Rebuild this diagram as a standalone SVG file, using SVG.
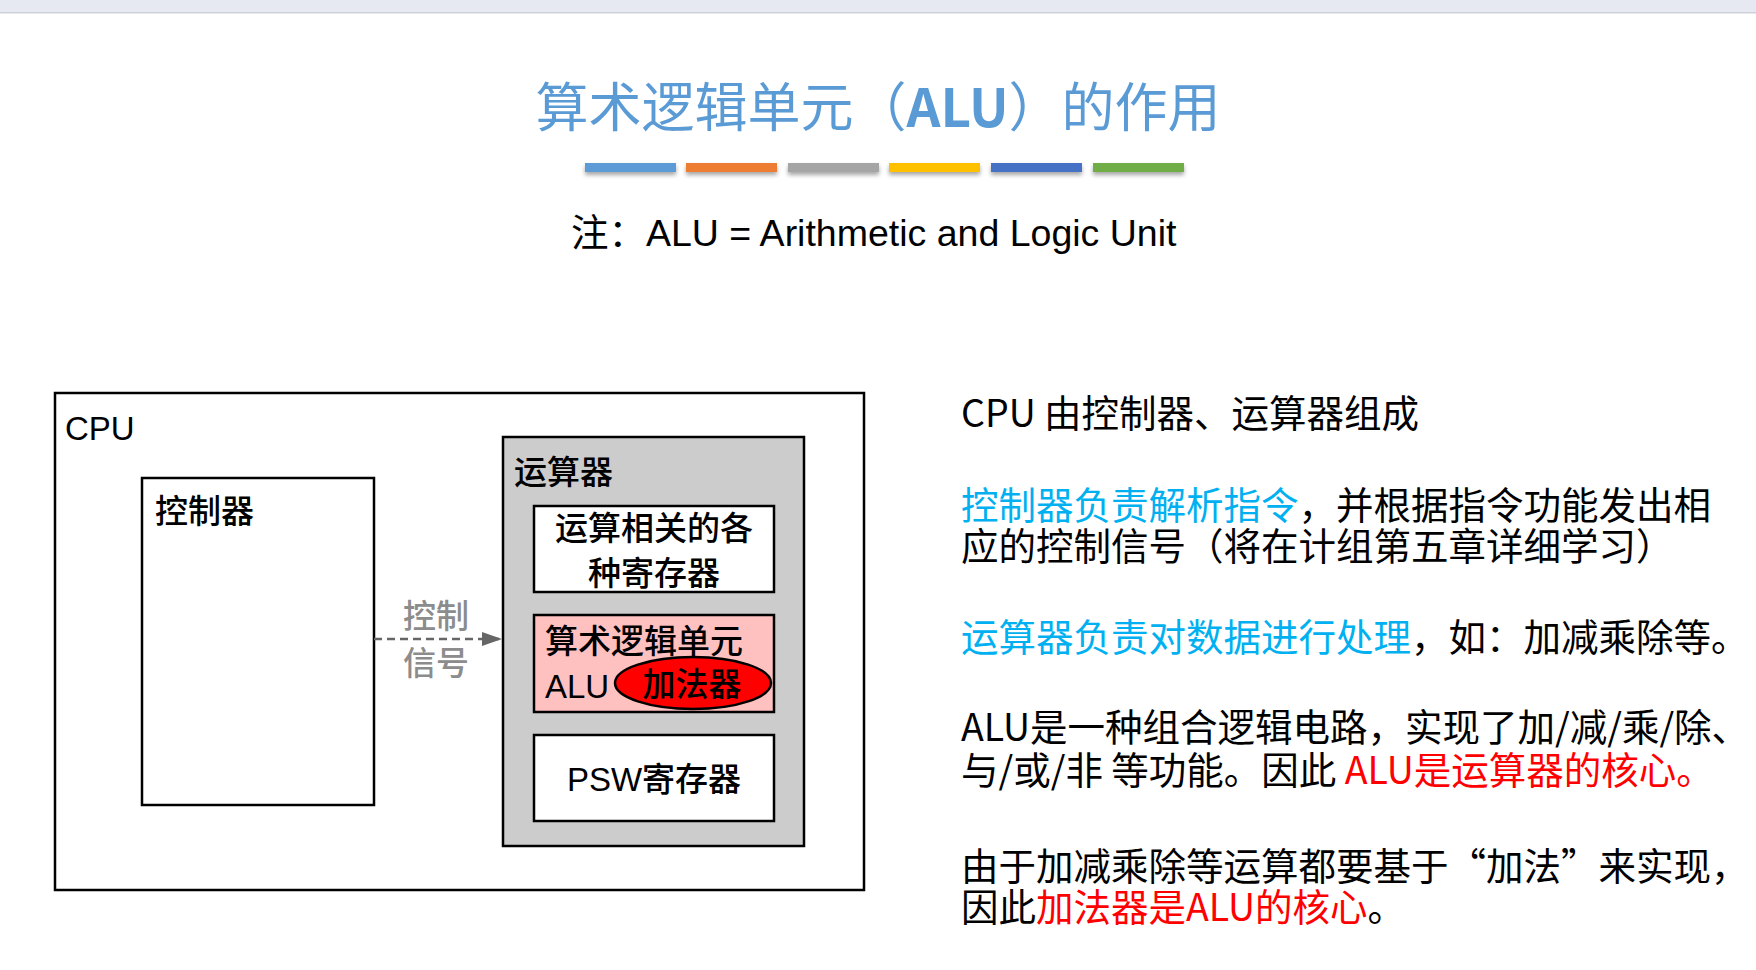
<svg xmlns="http://www.w3.org/2000/svg" width="1756" height="970" viewBox="0 0 1756 970">
<style>
.box{stroke:#000;stroke-width:2.5}
.dia{font-family:"Liberation Sans","Noto Sans CJK SC",sans-serif;font-size:33px;fill:#000;font-weight:500}
.para{font-family:"Noto Sans CJK SC",sans-serif;font-size:37.5px;fill:#000}
.blue{fill:#00b0f0}
.red{fill:#ff0000}
</style>
<defs>
<filter id="sh" x="-10%" y="-50%" width="120%" height="250%">
<feDropShadow dx="0" dy="3" stdDeviation="2" flood-color="#000" flood-opacity="0.35"/>
</filter>
<marker id="arr" viewBox="0 0 20 14" refX="20" refY="7" markerWidth="20" markerHeight="14" markerUnits="userSpaceOnUse" orient="auto">
<path d="M0,0 L20,7 L0,14 z" fill="#666"/>
</marker>
</defs>
<rect width="1756" height="970" fill="#fff"/>
<rect x="0" y="0" width="1756" height="12" fill="#e6e9f1"/>
<rect x="0" y="12" width="1756" height="1.5" fill="#cdd1da"/>

<g id="title">
<text x="878" y="127" text-anchor="middle" font-family="Noto Sans CJK SC, sans-serif" font-size="53" fill="#5b9bd5">算术逻辑单元（<tspan font-weight="bold">ALU</tspan>）的作用</text>
</g>
<g id="bars" filter="url(#sh)">
<rect x="585" y="163" width="91" height="9" fill="#5b9bd5"/>
<rect x="686" y="163" width="91" height="9" fill="#ed7d31"/>
<rect x="788" y="163" width="91" height="9" fill="#a5a5a5"/>
<rect x="889" y="163" width="91" height="9" fill="#ffc000"/>
<rect x="991" y="163" width="91" height="9" fill="#4472c4"/>
<rect x="1093" y="163" width="91" height="9" fill="#70ad47"/>
</g>
<g id="note">
<text x="571" y="246" font-family="Liberation Sans, Noto Sans CJK SC, sans-serif" font-size="37.5" fill="#000"><tspan font-family="Noto Sans CJK SC, sans-serif">注：</tspan>ALU = Arithmetic and Logic Unit</text>
</g>

<g id="cpu">
<rect class="box" x="55" y="393" width="809" height="497" fill="#fff"/>
<text class="dia" x="65" y="440" font-size="32" font-weight="normal">CPU</text>
</g>
<g id="controller">
<rect class="box" x="142" y="478" width="232" height="327" fill="#fff"/>
<text class="dia" x="155" y="523">控制器</text>
</g>
<g id="alu-unit">
<rect class="box" x="503" y="437" width="301" height="409" fill="#cccccc"/>
<text class="dia" x="514" y="484">运算器</text>
</g>
<g id="registers">
<rect class="box" x="534" y="506" width="240" height="86" fill="#fff"/>
<text class="dia" x="654" y="540" text-anchor="middle">运算相关的各</text>
<text class="dia" x="654" y="585" text-anchor="middle">种寄存器</text>
</g>
<g id="alu">
<rect class="box" x="534" y="615" width="240" height="97" fill="#ffc0c0"/>
<text class="dia" x="545" y="653">算术逻辑单元</text>
<text class="dia" x="545" y="698" font-weight="normal">ALU</text>
</g>
<g id="adder">
<ellipse class="box" cx="693" cy="683" rx="78" ry="26" fill="#ff0000"/>
<text class="dia" x="692" y="696" text-anchor="middle">加法器</text>
</g>
<g id="psw">
<rect class="box" x="534" y="735" width="240" height="86" fill="#fff"/>
<text class="dia" x="654" y="791" text-anchor="middle">PSW寄存器</text>
</g>

<g id="connectors">
<line x1="374" y1="639" x2="502" y2="639" stroke="#666" stroke-width="2.5" stroke-dasharray="8,5" marker-end="url(#arr)"/>
<text class="dia" x="436" y="628" text-anchor="middle" style="fill:#8c8c8c">控制</text>
<text class="dia" x="436" y="675" text-anchor="middle" style="fill:#8c8c8c">信号</text>
</g>

<g id="explanation">
<text class="para" x="961" y="427">CPU 由控制器、运算器组成</text>
<text class="para" x="961" y="519"><tspan class="blue">控制器负责解析指令</tspan>，并根据指令功能发出相</text>
<text class="para" x="961" y="560">应的控制信号（将在计组第五章详细学习）</text>
<text class="para" x="961" y="651"><tspan class="blue">运算器负责对数据进行处理</tspan>，如：加减乘除等。</text>
<text class="para" x="961" y="741">ALU是一种组合逻辑电路，实现了加/减/乘/除、</text>
<text class="para" x="961" y="784">与/或/非 等功能。因此 <tspan class="red">ALU是运算器的核心。</tspan></text>
<text class="para" x="961" y="880">由于加减乘除等运算都要基于“加法”来实现，</text>
<text class="para" x="961" y="921">因此<tspan class="red">加法器是ALU的核心</tspan>。</text>
</g>
</svg>
